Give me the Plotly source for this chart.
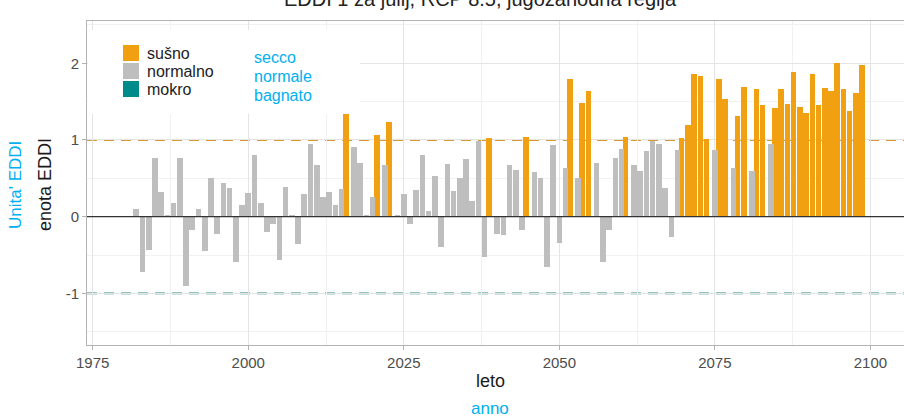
import plotly.graph_objects as go

# EDDI values for July, RCP 8.5, south-west region
years = list(range(1982, 2100))
eddi = [
    0.10, -0.72, -0.44, 0.76, 0.32, 0.01, 0.18, 0.76, -0.90, -0.18,   # 1982-1991
    0.10, -0.45, 0.50, -0.22, 0.44, 0.37, -0.59, 0.15, 0.31, 0.81,    # 1992-2001
    0.18, -0.20, -0.09, -0.57, 0.39, 0.01, -0.35, 0.30, 0.95, 0.67,   # 2002-2011
    0.26, 0.32, 0.15, 0.36, 1.36, 0.91, 0.70, 0.01, 0.26, 1.06,       # 2012-2021
    0.68, 1.24, 0.01, 0.30, -0.09, 0.35, 0.80, 0.07, 0.53, -0.40,     # 2022-2031
    0.69, 0.33, 0.50, 0.75, 0.20, 0.99, -0.53, 1.03, -0.22, -0.24,    # 2032-2041
    0.67, 0.61, -0.18, 1.04, 0.58, 0.50, -0.66, 0.94, -0.34, 0.64,    # 2042-2051
    1.79, 0.50, 1.48, 1.64, 0.70, -0.59, -0.18, 0.77, 0.88, 1.04,     # 2052-2061
    0.67, 0.59, 0.85, 0.99, 0.95, 0.37, -0.26, 0.87, 1.02, 1.19,      # 2062-2071
    1.86, 1.83, 1.01, 0.87, 1.79, 1.54, 0.64, 1.31, 1.69, 0.59,       # 2072-2081
    1.66, 1.45, 0.95, 1.42, 1.66, 1.47, 1.88, 1.43, 1.35, 1.86,       # 2082-2091
    1.46, 1.68, 1.64, 2.01, 1.66, 1.38, 1.61, 1.98,                   # 2092-2099
]

dry_limit = 1.0
wet_limit = -1.0

class_names = ["sušno", "normalno", "mokro"]
class_labels_it = ["secco", "normale", "bagnato"]
class_colors = ["#F0A010", "#BEBEBE", "#008B8B"]

x_ticks = [1975, 2000, 2025, 2050, 2075, 2100]
y_ticks = [-1, 0, 1, 2]

title = "EDDI 1 za julij, RCP 8.5, jugozahodna regija"
x_title, x_title_it = "leto", "anno"
y_title, y_title_it = "enota EDDI", "Unita' EDDI"


def classify(v):
    if v > dry_limit:
        return 0
    if v < wet_limit:
        return 2
    return 1


cls = [classify(v) for v in eddi]

W, H = 904, 417
L, R, T, B = 87, 904, 21, 345
PW, PH = R - L, B - T


def px(x):
    return (x - L) / PW


def py(y):
    return (B - y) / PH


fig = go.Figure()
for k, name in enumerate(class_names):
    fig.add_trace(go.Bar(
        x=years,
        y=[v if c == k else None for v, c in zip(eddi, cls)],
        width=0.9,
        name=name,
        marker=dict(color=class_colors[k], line=dict(width=0)),
        showlegend=False,
    ))

shapes = [
    # threshold lines
    dict(type="line", xref="paper", x0=0, x1=1, yref="y", y0=dry_limit, y1=dry_limit,
         line=dict(color="#D99A35", width=1.9, dash="10px,7px"), layer="between"),
    dict(type="line", xref="paper", x0=0, x1=1, yref="y", y0=wet_limit, y1=wet_limit,
         line=dict(color="#2A8282", width=1.9, dash="10px,7px"), layer="between"),
    # zero line
    dict(type="line", xref="paper", x0=0, x1=1, yref="y", y0=0, y1=0,
         line=dict(color="#333333", width=1.3), layer="above"),
    # legend background
    dict(type="rect", xref="paper", yref="paper", x0=px(88), x1=px(360), y0=py(114), y1=py(30),
         fillcolor="white", line=dict(width=0), layer="above"),
]

annotations = [
    dict(text=title, x=px(480), y=py(-1.5), xref="paper", yref="paper", showarrow=False,
         xanchor="center", yanchor="middle", font=dict(size=20, color="#222222")),
    dict(text=x_title, x=px(490), y=py(381), xref="paper", yref="paper", showarrow=False,
         xanchor="center", yanchor="middle", font=dict(size=18, color="#1a1a1a")),
    dict(text=x_title_it, x=px(490), y=py(408), xref="paper", yref="paper", showarrow=False,
         xanchor="center", yanchor="middle", font=dict(size=17, color="#00B0F0")),
    dict(text=y_title, x=px(45), y=py(185), xref="paper", yref="paper", showarrow=False,
         textangle=-90, xanchor="center", yanchor="middle", font=dict(size=18, color="#1a1a1a")),
    dict(text=y_title_it, x=px(15), y=py(185), xref="paper", yref="paper", showarrow=False,
         textangle=-90, xanchor="center", yanchor="middle", font=dict(size=17, color="#00B0F0")),
]

# legend keys and labels
for k, (name, name_it) in enumerate(zip(class_names, class_labels_it)):
    cy = 53 + 18 * k
    shapes.append(dict(type="rect", xref="paper", yref="paper",
                       x0=px(123), x1=px(139), y0=py(cy + 8), y1=py(cy - 8),
                       fillcolor=class_colors[k], line=dict(width=0), layer="above"))
    annotations.append(dict(text=name, x=px(145), y=py(cy), xref="paper", yref="paper",
                            showarrow=False, xanchor="left", yanchor="middle",
                            font=dict(size=16, color="#222222")))
    annotations.append(dict(text=name_it, x=px(252), y=py(57 + 19 * k), xref="paper", yref="paper",
                            showarrow=False, xanchor="left", yanchor="middle",
                            font=dict(size=16, color="#00B0F0")))

fig.update_layout(
    width=W, height=H,
    margin=dict(l=L, r=W - R, t=T, b=H - B, pad=0),
    paper_bgcolor="white", plot_bgcolor="white",
    font=dict(family="Liberation Sans, Arial, sans-serif"),
    bargap=0,
    shapes=shapes,
    annotations=annotations,
)

fig.update_xaxes(
    range=[1974.08, 2105.4],
    tickmode="array", tickvals=x_ticks, ticktext=[str(t) for t in x_ticks],
    ticks="outside", ticklen=4, tickcolor="#B3B3B3",
    tickfont=dict(size=15, color="#4D4D4D"),
    showline=True, linecolor="#B3B3B3", linewidth=1, mirror=True,
    showgrid=True, gridcolor="#E4E4E4", gridwidth=1,
    minor=dict(tickmode="array", tickvals=[1987.5, 2012.5, 2037.5, 2062.5, 2087.5],
               showgrid=True, gridcolor="#F1F1F1", gridwidth=0.6, ticks=""),
    zeroline=False,
)
fig.update_yaxes(
    range=[-1.673, 2.551],
    tickmode="array", tickvals=y_ticks, ticktext=[str(t) for t in y_ticks],
    ticks="outside", ticklen=4, tickcolor="#B3B3B3",
    tickfont=dict(size=15, color="#4D4D4D"),
    showline=True, linecolor="#B3B3B3", linewidth=1,
    showgrid=True, gridcolor="#E4E4E4", gridwidth=1,
    minor=dict(tickmode="array", tickvals=[-1.5, -0.5, 0.5, 1.5, 2.5],
               showgrid=True, gridcolor="#F1F1F1", gridwidth=0.6, ticks=""),
    zeroline=False,
)

fig.write_html("out.html")
